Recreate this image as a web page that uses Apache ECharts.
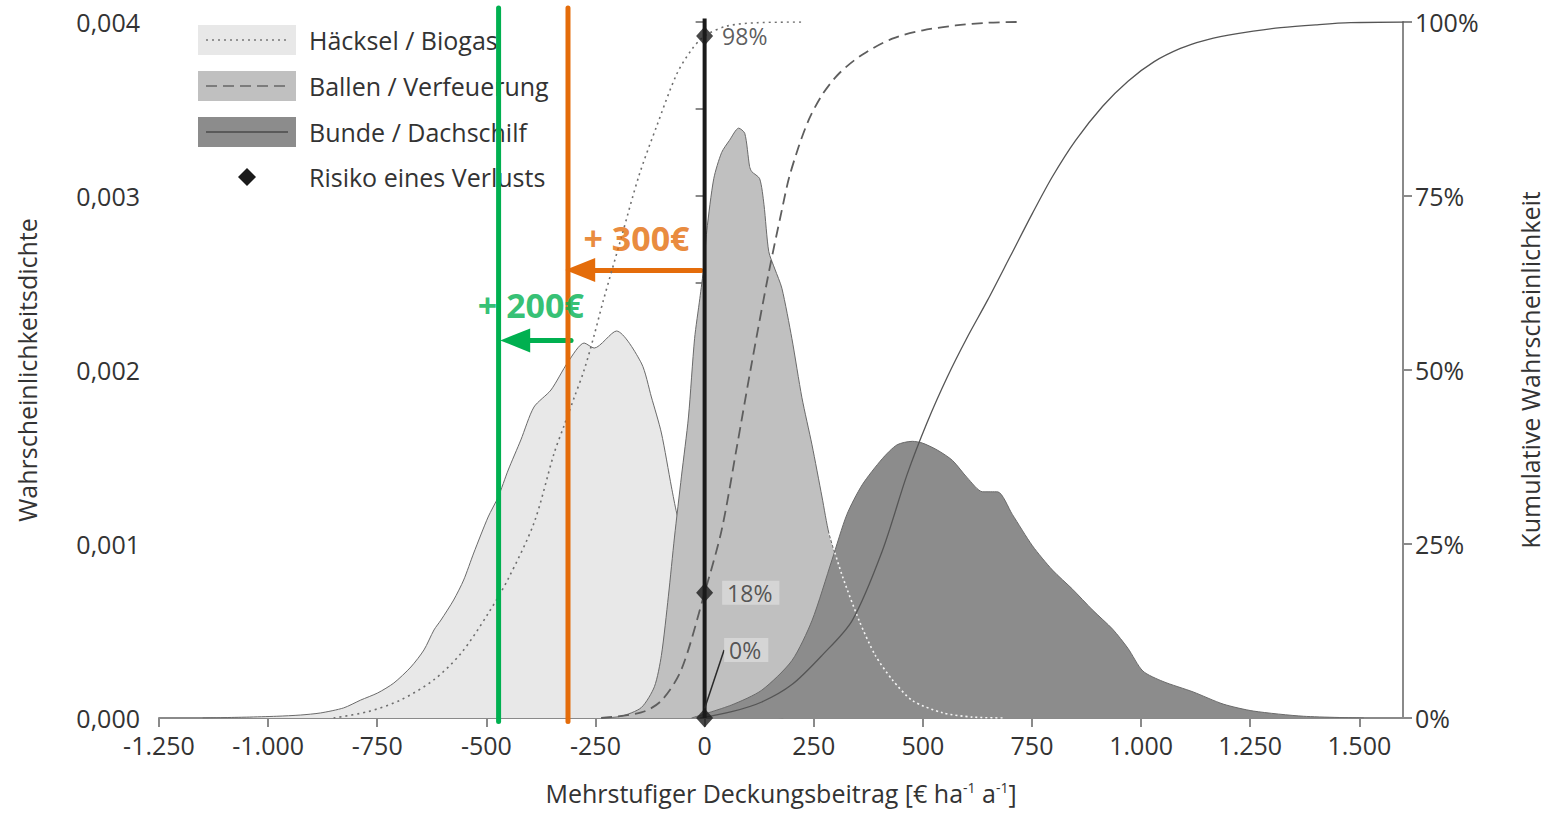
<!DOCTYPE html>
<html><head><meta charset="utf-8">
<script src="https://cdn.jsdelivr.net/npm/echarts@6/dist/echarts.min.js"></script>
<style>html,body{margin:0;padding:0;background:#fff}#c{width:1555px;height:815px}</style>
</head><body><div id="c"></div>
<script>
// ---------- data ----------
const legendNames = ['Häcksel / Biogas', 'Ballen / Verfeuerung', 'Bunde / Dachschilf', 'Risiko eines Verlusts'];

// density (left axis) [€/ha/a, density]
const haeckselDensity = [[-1150,0],[-1050,0.000005],[-980,0.00001],[-926,0.000017],[-880,0.000029],[-827,0.000058],[-788,0.000103],[-749,0.000144],[-712,0.000201],[-673,0.000293],[-643,0.000391],[-620,0.000506],[-604,0.000563],[-575,0.000678],[-552,0.000793],[-529,0.000948],[-496,0.001155],[-473,0.00127],[-450,0.001425],[-421,0.001598],[-391,0.001787],[-352,0.001885],[-313,0.002046],[-276,0.002155],[-253,0.002126],[-202,0.002224],[-145,0.00204],[-122,0.001845],[-99,0.001638],[-76,0.001328],[-64,0.001178],[-40,0.00095],[-15,0.0007],[10,0.00048],[40,0.00026],[80,0.0001],[130,0.00002],[180,0]];
const ballenDensity = [[-237,0],[-191,0.00001],[-145,0.00006],[-115,0.00018],[-99,0.00036],[-83,0.0007],[-69,0.00104],[-53,0.00139],[-37,0.00173],[-23,0.00218],[-11,0.00241],[-2,0.00259],[5,0.0028],[21,0.0031],[39,0.00325],[57,0.00332],[78,0.00339],[92,0.00336],[103,0.00317],[108,0.00314],[126,0.0031],[136,0.00295],[147,0.00268],[161,0.00258],[177,0.00247],[200,0.00218],[223,0.00184],[246,0.00157],[269,0.00127],[285,0.00106],[315,0.00082],[354,0.00056],[391,0.00036],[430,0.00022],[476,0.0001],[545,0.00003],[614,0.000005],[683,0]];
const bundeDensity = [[-30,0],[62,0.000075],[131,0.00016],[200,0.00033],[246,0.00056],[292,0.00091],[326,0.00117],[361,0.00134],[407,0.00149],[441,0.00157],[476,0.00159],[499,0.00158],[533,0.00154],[568,0.00148],[602,0.00138],[637,0.0013],[671,0.0013],[705,0.00117],[751,0.00099],[797,0.00085],[843,0.00074],[889,0.00062],[935,0.00051],[970,0.0004],[1004,0.00027],[1050,0.00021],[1119,0.00015],[1188,0.00008],[1257,0.00004],[1372,0.00001],[1510,0]];

// cumulative probability (right axis) [€/ha/a, %]
const haeckselCdf = [[-850,0],[-772,0.9],[-696,2.6],[-620,5.5],[-558,9.3],[-496,15],[-450,20],[-391,28],[-345,38],[-322,42],[-299,46],[-276,50],[-253,55],[-232,60],[-191,69],[-150,78],[-110,85],[-64,92.5],[-30,96],[0,98],[50,99.4],[120,99.9],[222,100]];
const ballenCdf = [[-237,0],[-145,0.8],[-99,2.5],[-53,7],[0,18],[39,27],[74,39],[108,51],[147,64],[177,73],[193,77.5],[215,82],[239,86],[270,89.6],[308,92.6],[361,95.3],[430,97.6],[500,98.8],[575,99.5],[650,99.9],[717,100]];
const bundeCdf = [[-10,0],[62,0.9],[131,2.3],[200,4.8],[269,9],[338,14],[407,24],[464,35],[510,42.5],[556,49],[600,54.5],[648,60],[700,66.3],[751,72.5],[797,77.8],[850,83],[912,87.9],[970,91.5],[1030,94.3],[1090,96.2],[1142,97.3],[1200,98.1],[1257,98.7],[1320,99.2],[1400,99.6],[1480,99.9],[1602,100]];

// risk of loss at break-even (x = 0)
const riskPoints = [[0,98],[0,18],[0,0]];

// shifts of break-even
const shiftLines = [-313, -472];             // orange, green
const shiftArrows = [[-8,-285,0.002575],[-306,-434,0.00217]];  // from, to, y
const shiftLabels = ['+ 300€', '+ 200€'];
const shiftLabelPos = [[-156,0.00276],[-398,0.002374]];

// ---------- styling ----------
const FONT = '"Open Sans", Lato, sans-serif';
const TXT = '#333333';
const AX = '#8a8a8a';
const ORANGE = '#E46C0A', GREEN = '#00B050';
const fills = ['#e8e8e8', '#c0c0c0', '#8c8c8c'];
const FS = 25;

function deNum(v){
  const s = Math.abs(Math.round(v)).toString().replace(/\B(?=(\d{3})+(?!\d))/g, '.');
  return (v < 0 ? '-' : '') + s;
}

const chart = echarts.init(document.getElementById('c'), null, {renderer: 'svg'});

function areaSeries(name, data, fill, z){
  return {type:'line', name, data, xAxisIndex:0, yAxisIndex:0, symbol:'none', smooth:0.25, z,
    lineStyle:{color:'#6a6a6a', width:1}, areaStyle:{color:fill, opacity:1}, silent:true};
}
function cdfSeries(name, data, dash, width, color){
  return {type:'line', name, data, xAxisIndex:0, yAxisIndex:1, symbol:'none', smooth:0.3, z:5,
    lineStyle:{color, width, type: dash}, silent:true};
}

const series = [
  areaSeries(legendNames[0], haeckselDensity, fills[0], 1),
  areaSeries(legendNames[1], ballenDensity, fills[1], 2),
  areaSeries(legendNames[2], bundeDensity, fills[2], 3),
  {type:'line', data: ballenDensity.filter(p => p[0] >= 285), yAxisIndex:0, symbol:'none', smooth:0.25, z:4,
    lineStyle:{color:'#f4f4f4', width:1.6, type:[2,3]}, silent:true},
  cdfSeries('cdf1', haeckselCdf, [2,4], 1.6, '#6e6e6e'),
  cdfSeries('cdf2', ballenCdf, [11,6], 1.8, '#5e5e5e'),
  cdfSeries('cdf3', bundeCdf, 'solid', 1.3, '#555555'),
  // break-even line
  {type:'line', data:[[0,0],[0,0.00402]], yAxisIndex:0, symbol:'none', clip:false, z:6,
    lineStyle:{color:'#1a1a1a', width:4}, silent:true},
  // shifted break-even lines
  {type:'line', data:[[shiftLines[0],-0.00002],[shiftLines[0],0.00408]], yAxisIndex:0, symbol:'none', clip:false, z:7,
    lineStyle:{color:ORANGE, width:5, cap:'round'}, silent:true},
  {type:'line', data:[[shiftLines[1],-0.00002],[shiftLines[1],0.00408]], yAxisIndex:0, symbol:'none', clip:false, z:7,
    lineStyle:{color:GREEN, width:5, cap:'round'}, silent:true},
  // arrows
  {type:'line', data:[], yAxisIndex:0, z:8, silent:true,
    markLine:{silent:true, animation:false, label:{show:false},
      data:[
        [{coord:[shiftArrows[0][0], shiftArrows[0][2]], symbol:'none', lineStyle:{color:ORANGE, width:5, type:'solid', cap:'round'}},
         {coord:[shiftArrows[0][1], shiftArrows[0][2]], symbol:'triangle', symbolSize:[24,30]}],
        [{coord:[shiftArrows[1][0], shiftArrows[1][2]], symbol:'none', lineStyle:{color:GREEN, width:5, type:'solid', cap:'round'}},
         {coord:[shiftArrows[1][1], shiftArrows[1][2]], symbol:'triangle', symbolSize:[24,30]}]
      ]}},
  // shift labels
  {type:'scatter', yAxisIndex:0, symbolSize:0, z:9, silent:true,
    data: shiftLabelPos.map((p,i) => ({value:p, label:{color: i===0?ORANGE:GREEN}})),
    label:{show:true, position:'inside', formatter: p => shiftLabels[p.dataIndex],
      fontFamily:FONT, fontWeight:'bold', fontSize:34}},
  // risk diamonds
  {type:'scatter', yAxisIndex:1, symbol:'diamond', symbolSize:[17,19], z:10, silent:true,
    itemStyle:{color:'#1a1a1a'},
    data: riskPoints.map((p,i) => ({value:p,
      label: i===0 ? {} : {backgroundColor:'rgba(222,222,222,0.85)', padding:[1,7,0,5]},
      labelLine: i===2 ? {show:true, lineStyle:{color:'#2a2a2a', width:1.5}} : {show:false}})),
    labelLayout: p => p.dataIndex===2 ? {dy:-68, dx:2} : {},
    label:{show:true, position:'right', distance:9, formatter: p => p.value[1] + '%',
      fontFamily:FONT, fontSize:23, color:TXT}}
];

// ---------- legend (drawn) ----------
const lgX = 198, lgW = 98, lgText = 309, lgY = [40, 86, 132, 177];
const graphic = [];
[0,1,2].forEach(i => {
  graphic.push({type:'rect', left:lgX, top:lgY[i]-15, shape:{width:lgW, height:30}, style:{fill:fills[i]}, z:0, silent:true});
});
graphic.push({type:'line', shape:{x1:lgX+8, y1:lgY[0], x2:lgX+lgW-8, y2:lgY[0]}, style:{stroke:'#777', lineWidth:1.4, lineDash:[2,4]}, z:1});
graphic.push({type:'line', shape:{x1:lgX+8, y1:lgY[1], x2:lgX+lgW-8, y2:lgY[1]}, style:{stroke:'#666', lineWidth:1.6, lineDash:[11,6]}, z:1});
graphic.push({type:'line', shape:{x1:lgX+8, y1:lgY[2], x2:lgX+lgW-8, y2:lgY[2]}, style:{stroke:'#4a4a4a', lineWidth:1.4}, z:1});
graphic.push({type:'polygon', shape:{points:[[247,lgY[3]-9],[256,lgY[3]],[247,lgY[3]+9],[238,lgY[3]]]}, style:{fill:'#1a1a1a'}, z:1});
legendNames.forEach((n,i) => {
  graphic.push({type:'text', x:lgText, y:lgY[i], z:1, style:{text:n, fontFamily:FONT, fontSize:FS, fill:TXT, verticalAlign:'middle'}});
});

const option = {
  backgroundColor:'#fff',
  animation:false,
  textStyle:{fontFamily:FONT},
  grid:{left:159, right:152, top:22, bottom:97},
  xAxis:{type:'value', min:-1250, max:1600, interval:250,
    name:'Mehrstufiger Deckungsbeitrag [€ ha{s|-1} a{s|-1}]', nameLocation:'middle', nameGap:62,
    nameTextStyle:{fontFamily:FONT, fontSize:FS, color:TXT, rich:{s:{fontSize:14, verticalAlign:'top', padding:[0,0,11,0], color:TXT, fontFamily:FONT}}},
    axisLine:{lineStyle:{color:AX, width:2}},
    axisTick:{show:true, length:9, lineStyle:{color:AX, width:2}},
    axisLabel:{fontFamily:FONT, fontSize:FS, color:TXT, margin:14, showMaxLabel:false, formatter: v => v > 1500 ? '' : deNum(v)},
    splitLine:{show:false}},
  yAxis:[
    {type:'value', min:0, max:0.004, interval:0.0005, position:'left',
      name:'Wahrscheinlichkeitsdichte', nameLocation:'middle', nameGap:120, nameRotate:90,
      nameTextStyle:{fontFamily:FONT, fontSize:FS, color:TXT},
      axisLine:{show:true, lineStyle:{color:AX, width:2}},
      axisTick:{show:true, length:9, lineStyle:{color:AX, width:2}},
      axisLabel:{fontFamily:FONT, fontSize:FS, color:TXT, margin:19,
        formatter: v => { const k = Math.round(v*10000); return k % 10 === 0 ? (k/10000).toFixed(3).replace('.', ',') : ''; }},
      splitLine:{show:false}},
    {type:'value', min:0, max:100, interval:25, position:'right',
      name:'Kumulative Wahrscheinlichkeit', nameLocation:'middle', nameGap:114, nameRotate:90,
      nameTextStyle:{fontFamily:FONT, fontSize:FS, color:TXT},
      axisLine:{show:true, lineStyle:{color:AX, width:2}},
      axisTick:{show:true, length:9, lineStyle:{color:AX, width:2}},
      axisLabel:{fontFamily:FONT, fontSize:FS, color:TXT, margin:12, formatter:'{value}%'},
      splitLine:{show:false}}
  ],
  graphic,
  series
};
chart.setOption(option);
</script></body></html>
